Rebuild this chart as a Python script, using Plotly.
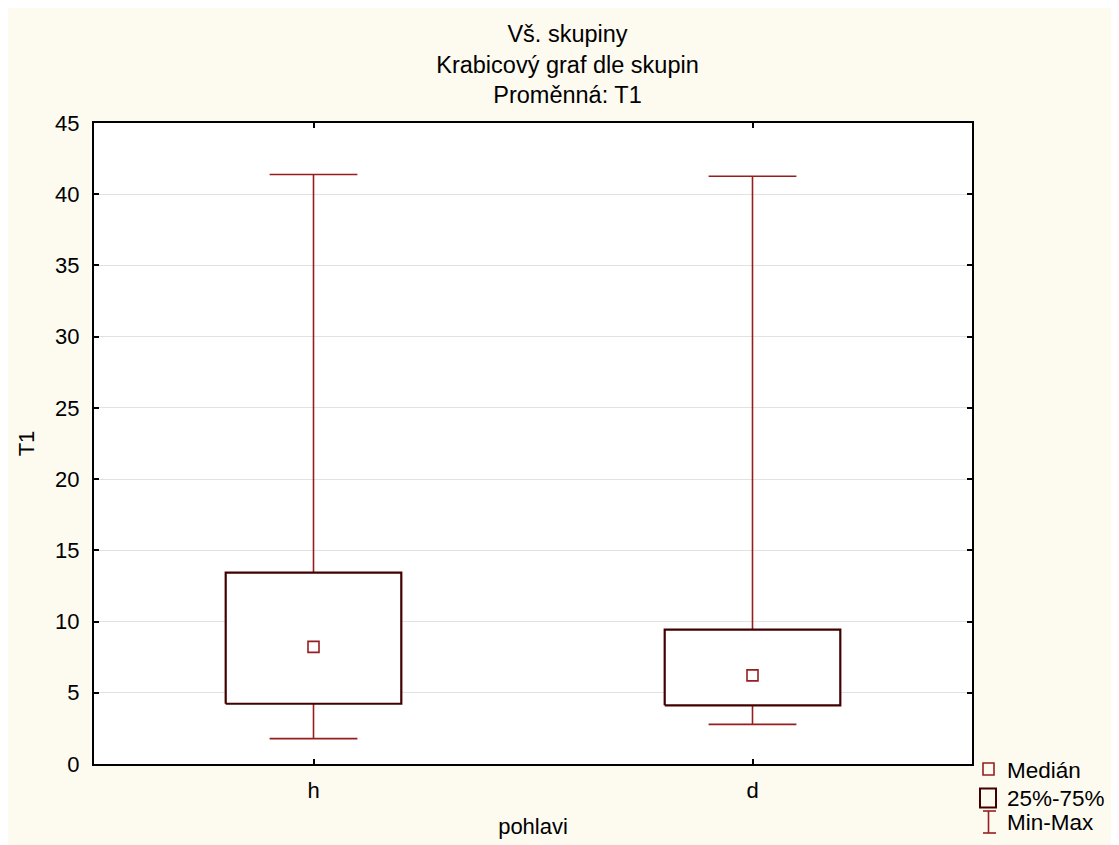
import plotly.graph_objects as go

# ---- data ----
groups = ["h", "d"]
minimum = [1.78, 2.78]
q1 = [4.23, 4.12]
median = [8.22, 6.22]
q3 = [13.43, 9.43]
maximum = [41.38, 41.26]

legend_labels = ["Medián", "25%-75%", "Min-Max"]

# ---- style ----
W, H = 1119, 845
OFF = 8  # page body margin
ML, MR, MT, MB = 86, 155, 115, 89
PW, PH = W - ML - MR, H - MT - MB
CREAM = "#FDFAF0"
WHISK = "#961E1E"
BOXC = "#420000"
FONT = "Liberation Sans, Arial, sans-serif"
BOX_HALF = 0.2
CAP_HALF = 0.1


def px2x(px):  # screen px -> paper
    return (px - OFF - ML) / PW


def px2y(py):
    return (H - MB - (py - OFF)) / PH


fig = go.Figure()

idx = list(range(len(groups)))

# whiskers (vertical lines + caps)
for i in idx:
    fig.add_trace(go.Scatter(
        x=[i, i, None, i, i, None,
           i - CAP_HALF, i + CAP_HALF, None, i - CAP_HALF, i + CAP_HALF],
        y=[q3[i], maximum[i], None, q1[i], minimum[i], None,
           maximum[i], maximum[i], None, minimum[i], minimum[i]],
        mode="lines", line=dict(color=WHISK, width=1.6),
        showlegend=False, hoverinfo="skip"))

# boxes
for i in idx:
    fig.add_trace(go.Scatter(
        x=[i - BOX_HALF, i + BOX_HALF, i + BOX_HALF, i - BOX_HALF, i - BOX_HALF],
        y=[q1[i], q1[i], q3[i], q3[i], q1[i]],
        mode="lines", fill="toself", fillcolor="white",
        line=dict(color=BOXC, width=2.2),
        showlegend=False, hoverinfo="skip"))

# medians
fig.add_trace(go.Scatter(
    x=idx, y=median, mode="markers",
    marker=dict(symbol="square-open", size=11, color=WHISK,
                line=dict(width=1.6, color=WHISK)),
    showlegend=False, hoverinfo="skip"))

shapes = []
# legend icons
shapes.append(dict(type="rect", xref="paper", yref="paper",
                   x0=px2x(983), x1=px2x(994), y0=px2y(775), y1=px2y(763),
                   line=dict(color=WHISK, width=1.6), fillcolor="rgba(0,0,0,0)"))
shapes.append(dict(type="rect", xref="paper", yref="paper",
                   x0=px2x(980), x1=px2x(996), y0=px2y(807.5), y1=px2y(788.5),
                   line=dict(color=BOXC, width=2), fillcolor="rgba(0,0,0,0)"))
for (xa, xb, ya, yb) in [(988.5, 988.5, 811, 833), (983, 996, 811, 811), (983, 996, 833, 833)]:
    shapes.append(dict(type="line", xref="paper", yref="paper",
                       x0=px2x(xa), x1=px2x(xb), y0=px2y(ya), y1=px2y(yb),
                       line=dict(color=WHISK, width=1.6)))

annotations = []
for lab, yc in zip(legend_labels, [770, 798, 822]):
    annotations.append(dict(text=lab, xref="paper", yref="paper",
                            x=px2x(1005), y=px2y(yc), xanchor="left", yanchor="middle",
                            showarrow=False, font=dict(size=22.5, color="black", family=FONT)))

fig.update_layout(
    width=W, height=H,
    margin=dict(l=ML, r=MR, t=MT, b=MB, autoexpand=False),
    paper_bgcolor=CREAM, plot_bgcolor="white",
    font=dict(family=FONT, size=22, color="black"),
    title=dict(text="Vš. skupiny<br>Krabicový graf dle skupin<br>Proměnná: T1",
               x=0.5, xanchor="center", xref="container",
               y=1 - 34 / H, yanchor="top", yref="container",
               font=dict(size=23.5, family=FONT, color="black")),
    showlegend=False,
    shapes=shapes,
    annotations=annotations,
    xaxis=dict(range=[-0.5, 1.5], tickvals=idx, ticktext=groups,
               showgrid=False, zeroline=False,
               showline=True, linecolor="black", linewidth=2, mirror="ticks",
               ticks="inside", ticklen=5, tickwidth=1.5, tickcolor="black",
               ticklabelstandoff=6,
               title=dict(text="pohlavi", standoff=16, font=dict(size=22))),
    yaxis=dict(range=[0, 45], dtick=5, tick0=0,
               showgrid=True, gridcolor="#E2E2E2", gridwidth=1, zeroline=False,
               showline=True, linecolor="black", linewidth=2, mirror="ticks",
               ticks="inside", ticklen=5, tickwidth=1.5, tickcolor="black",
               ticklabelstandoff=8,
               title=dict(text="T1", standoff=14, font=dict(size=22))),
)

fig.write_html("out.html")
